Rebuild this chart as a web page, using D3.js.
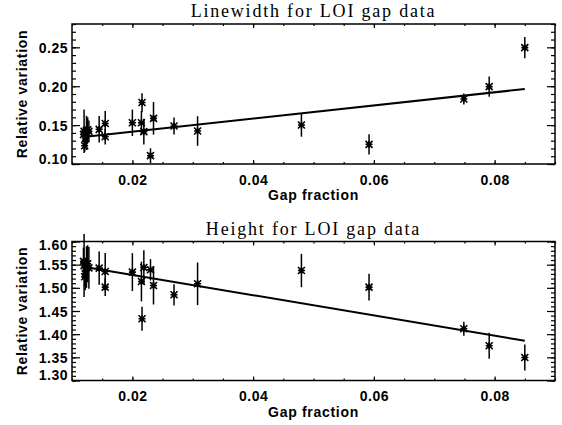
<!DOCTYPE html>
<html>
<head>
<meta charset="utf-8">
<script src="https://d3js.org/d3.v7.min.js"></script>
<style>
  body { margin: 0; background: #fff; }
  svg { display: block; }
</style>
</head>
<body>
<svg width="562" height="425"></svg>
<script>
// gap fraction for each measurement (same x in both panels)
const gapFraction = [0.0119, 0.0120, 0.0121, 0.0122, 0.0124, 0.0126, 0.0128,
  0.0145, 0.0155, 0.0155, 0.0200, 0.0215, 0.0216, 0.0219, 0.0230, 0.0235,
  0.0269, 0.0308, 0.0480, 0.0592, 0.0749, 0.0791, 0.0850];

const linewidth = [0.138, 0.142, 0.1235, 0.133, 0.140, 0.144, 0.142,
  0.1446, 0.152, 0.135, 0.153, 0.153, 0.179, 0.1416, 0.1107, 0.1587,
  0.1489, 0.1424, 0.1501, 0.1253, 0.1836, 0.1994, 0.2496];
const linewidthErr = [0.010, 0.028, 0.008, 0.012, 0.022, 0.016, 0.014,
  0.017, 0.016, 0.010, 0.017, 0.015, 0.012, 0.0165, 0.0096, 0.021,
  0.011, 0.019, 0.015, 0.013, 0.007, 0.013, 0.0137];

const height = [1.557, 1.548, 1.524, 1.530, 1.545, 1.552, 1.543,
  1.5426, 1.5353, 1.5016, 1.534, 1.5137, 1.4332, 1.544, 1.539, 1.505,
  1.485, 1.5087, 1.5374, 1.5016, 1.4116, 1.3749, 1.3497];
const heightErr = [0.030, 0.068, 0.020, 0.035, 0.045, 0.040, 0.045,
  0.036, 0.040, 0.019, 0.041, 0.043, 0.026, 0.037, 0.023, 0.041,
  0.023, 0.046, 0.036, 0.029, 0.015, 0.028, 0.028];

// linear fit end points
const fitX = [0.0119, 0.0850];
const linewidthFit = [0.1348, 0.1964];
const heightFit = [1.5457, 1.3857];

const xTicks = [0.02, 0.04, 0.06, 0.08];
const linewidthTicks = [0.10, 0.15, 0.20, 0.25];
const heightTicks = [1.30, 1.35, 1.40, 1.45, 1.50, 1.55, 1.60];

const svg = d3.select('svg');
const left = 72, right = 555;

const x = d3.scaleLinear().domain([0.01, 0.09]).range([left, right]);
const xMinor = d3.range(0.01, 0.0901, 0.005);

function panel(cfg) {
  const y = d3.scaleLinear().domain(cfg.domain).range([cfg.bottom, cfg.top]);
  const yMinor = d3.range(cfg.domain[0], cfg.domain[1] + 0.0001, 0.01);
  const g = svg.append('g');

  // minor ticks
  g.append('g').attr('transform', `translate(0,${cfg.bottom})`)
    .call(d3.axisBottom(x).tickValues(xMinor).tickSize(-2).tickFormat(''));
  g.append('g').attr('transform', `translate(0,${cfg.top})`)
    .call(d3.axisTop(x).tickValues(xMinor).tickSize(-2).tickFormat(''));
  g.append('g').attr('transform', `translate(${left},0)`)
    .call(d3.axisLeft(y).tickValues(yMinor).tickSize(-4).tickFormat(''));
  g.append('g').attr('transform', `translate(${right},0)`)
    .call(d3.axisRight(y).tickValues(yMinor).tickSize(-4).tickFormat(''));

  // major ticks
  const xb = g.append('g').attr('transform', `translate(0,${cfg.bottom})`)
    .call(d3.axisBottom(x).tickValues(xTicks).tickSize(-4).tickFormat(d3.format('.2f')));
  xb.selectAll('text').attr('y', 20.5).attr('dy', null);
  g.append('g').attr('transform', `translate(0,${cfg.top})`)
    .call(d3.axisTop(x).tickValues(xTicks).tickSize(-4).tickFormat(''));
  const yl = g.append('g').attr('transform', `translate(${left},0)`)
    .call(d3.axisLeft(y).tickValues(cfg.ticks).tickSize(-8).tickFormat(d3.format('.2f')));
  yl.selectAll('text').attr('x', -4)
    .attr('dy', (d, i, n) => i === 0 ? '-0.05em' : (i === n.length - 1 && y(d) - cfg.top < 4 ? '0.55em' : '0.36em'));
  g.append('g').attr('transform', `translate(${right},0)`)
    .call(d3.axisRight(y).tickValues(cfg.ticks).tickSize(-8).tickFormat(''));

  g.selectAll('.domain').remove();
  g.selectAll('.tick line').attr('stroke', '#000').attr('stroke-width', 1.2);
  g.selectAll('.tick text')
    .attr('fill', '#000')
    .style('font-family', '"Liberation Sans", Arial, sans-serif')
    .style('font-weight', 'bold')
    .style('font-size', '14px')
    .style('letter-spacing', '0.5px');

  // frame
  g.append('rect')
    .attr('x', left).attr('y', cfg.top)
    .attr('width', right - left).attr('height', cfg.bottom - cfg.top)
    .attr('fill', 'none').attr('stroke', '#000').attr('stroke-width', 1.5);

  // title
  g.append('text')
    .attr('x', (left + right) / 2).attr('y', cfg.top - 7)
    .attr('text-anchor', 'middle')
    .style('font-family', '"Liberation Serif", "Times New Roman", serif')
    .style('font-size', '18px')
    .style('letter-spacing', '1.8px')
    .text(cfg.title);

  // axis titles
  g.append('text')
    .attr('x', (left + right) / 2).attr('y', cfg.bottom + 36)
    .attr('text-anchor', 'middle')
    .style('font-family', '"Liberation Sans", Arial, sans-serif')
    .style('font-weight', 'bold').style('font-size', '14px')
    .style('letter-spacing', '0.7px')
    .text('Gap fraction');
  g.append('text')
    .attr('transform', `translate(27,${(cfg.top + cfg.bottom) / 2}) rotate(-90)`)
    .attr('text-anchor', 'middle')
    .style('font-family', '"Liberation Sans", Arial, sans-serif')
    .style('font-weight', 'bold').style('font-size', '14px')
    .style('letter-spacing', '0.7px')
    .text('Relative variation');

  // error bars
  g.selectAll('.err').data(gapFraction).enter()
    .append('line')
    .attr('x1', d => x(d)).attr('x2', d => x(d))
    .attr('y1', (d, i) => y(cfg.values[i] - cfg.errors[i]))
    .attr('y2', (d, i) => y(cfg.values[i] + cfg.errors[i]))
    .attr('stroke', '#000').attr('stroke-width', 1.5);

  // fit line
  g.append('line')
    .attr('x1', x(fitX[0])).attr('y1', y(cfg.fit[0]))
    .attr('x2', x(fitX[1])).attr('y2', y(cfg.fit[1]))
    .attr('stroke', '#000').attr('stroke-width', 2);

  // asterisk symbols
  const s = 3.5;
  g.selectAll('.star').data(gapFraction).enter()
    .append('path')
    .attr('transform', (d, i) => `translate(${x(d)},${y(cfg.values[i])})`)
    .attr('d', `M${-s},0H${s}M0,${-s}V${s}M${-s},${-s}L${s},${s}M${-s},${s}L${s},${-s}`)
    .attr('stroke', '#000').attr('stroke-width', 1.6).attr('fill', 'none');
}

panel({ title: 'Linewidth for LOI gap data', top: 24, bottom: 164,
  domain: [0.10, 0.28], ticks: linewidthTicks,
  values: linewidth, errors: linewidthErr, fit: linewidthFit });

panel({ title: 'Height for LOI gap data', top: 241.5, bottom: 380.5,
  domain: [1.30, 1.60], ticks: heightTicks,
  values: height, errors: heightErr, fit: heightFit });
</script>
</body>
</html>
